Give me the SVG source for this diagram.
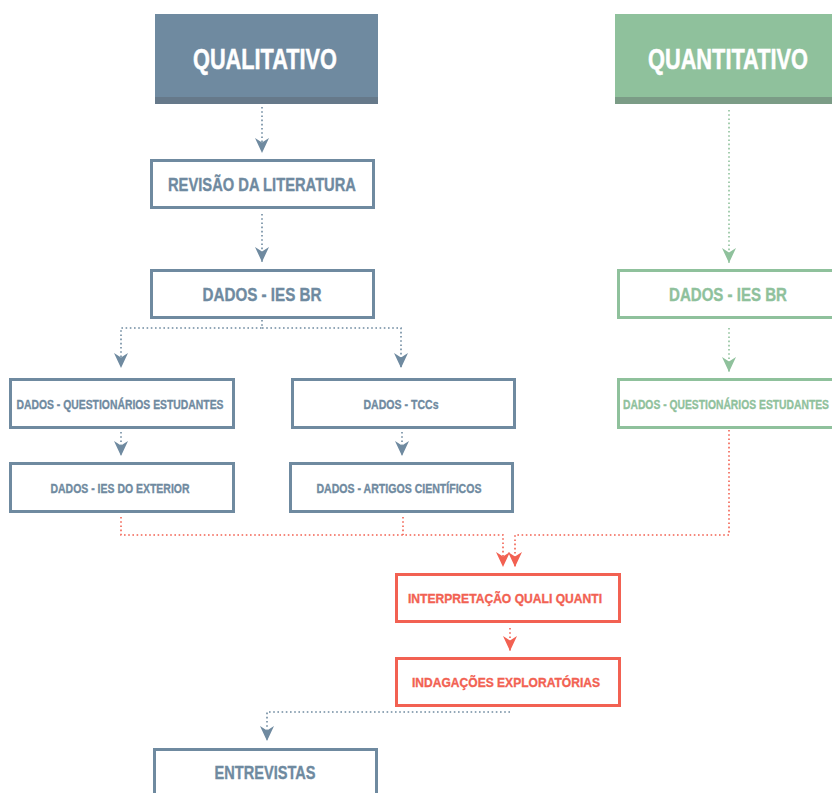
<svg xmlns="http://www.w3.org/2000/svg" width="832" height="793" viewBox="0 0 832 793">
  <defs>
    <style>
      text { font-family: "Liberation Sans", Arial, sans-serif; font-weight: bold; text-anchor: middle; stroke-width: 0.35; }
      .hd { font-size: 29px; fill: #ffffff; stroke: #ffffff; stroke-width: 0.5; }
      .md { font-size: 17.5px; }
      .sm { font-size: 13.5px; }
      .box { fill: #ffffff; stroke-width: 3; }
      .blue { stroke: #6f8aa0; }
      .green { stroke: #8fc19c; }
      .red { stroke: #f26152; }
      .tb { fill: #6f8aa0; stroke: #6f8aa0; }
      .tg { fill: #8fc19c; stroke: #8fc19c; }
      .tr { fill: #f26152; stroke: #f26152; }
      .dot { fill: none; stroke-width: 1.6; stroke-dasharray: 1.6 2.6; }
    </style>
    <marker id="ab" markerUnits="userSpaceOnUse" markerWidth="17" markerHeight="15" refX="15" refY="7" orient="auto">
      <path d="M0,0 L15,7 L0,14 L4.5,7 Z" fill="#6f8aa0"/>
    </marker>
    <marker id="ag" markerUnits="userSpaceOnUse" markerWidth="17" markerHeight="15" refX="15" refY="7" orient="auto">
      <path d="M0,0 L15,7 L0,14 L4.5,7 Z" fill="#8fc19c"/>
    </marker>
    <marker id="ar" markerUnits="userSpaceOnUse" markerWidth="17" markerHeight="15" refX="15" refY="7" orient="auto">
      <path d="M0,0 L15,7 L0,14 L4.5,7 Z" fill="#f26152"/>
    </marker>
  </defs>

  <!-- connectors -->
  <g id="connectors">
    <path class="dot blue" d="M262,107 V153" marker-end="url(#ab)"/>
    <path class="dot blue" d="M262,214 V262" marker-end="url(#ab)"/>
    <path class="dot blue" d="M262,320 V328 H121 V368" marker-end="url(#ab)"/>
    <path class="dot blue" d="M262,328 H401 V368" marker-end="url(#ab)"/>
    <path class="dot blue" d="M121,432 V456" marker-end="url(#ab)"/>
    <path class="dot blue" d="M402,432 V456" marker-end="url(#ab)"/>
    <path class="dot green" d="M729,110 V263" marker-end="url(#ag)"/>
    <path class="dot green" d="M729,328 V372" marker-end="url(#ag)"/>
    <path class="dot red" d="M121,517 V535 H503 V567" marker-end="url(#ar)"/>
    <path class="dot red" d="M403,517 V535"/>
    <path class="dot red" d="M729,430 V535 H515 V567" marker-end="url(#ar)"/>
    <path class="dot red" d="M510,628 V651" marker-end="url(#ar)"/>
    <path class="dot blue" d="M510,712 H267 V741" marker-end="url(#ab)"/>
  </g>

  <!-- headers -->
  <g id="qualitativo">
    <rect x="155" y="14" width="223" height="90" fill="#6f8aa0"/>
    <rect x="155" y="97" width="223" height="7" fill="#66798a"/>
    <text class="hd" x="265" y="69" textLength="144" lengthAdjust="spacingAndGlyphs">QUALITATIVO</text>
  </g>
  <g id="quantitativo">
    <rect x="615" y="14" width="220" height="90" fill="#8fc19c"/>
    <rect x="615" y="97" width="220" height="7" fill="#7b9c86"/>
    <text class="hd" x="728" y="69" textLength="160" lengthAdjust="spacingAndGlyphs">QUANTITATIVO</text>
  </g>

  <!-- qualitative branch -->
  <g id="revisao">
    <rect class="box blue" x="151.5" y="160.5" width="222" height="47"/>
    <text class="md tb" x="262" y="190.5" textLength="188" lengthAdjust="spacingAndGlyphs">REVISÃO DA LITERATURA</text>
  </g>
  <g id="ies-br">
    <rect class="box blue" x="151.5" y="270.5" width="222" height="47"/>
    <text class="md tb" x="262" y="300.5" textLength="119" lengthAdjust="spacingAndGlyphs">DADOS - IES BR</text>
  </g>
  <g id="questionarios">
    <rect class="box blue" x="10.5" y="379.5" width="223" height="48"/>
    <text class="sm tb" x="120" y="408.5" textLength="207" lengthAdjust="spacingAndGlyphs">DADOS - QUESTIONÁRIOS ESTUDANTES</text>
  </g>
  <g id="tccs">
    <rect class="box blue" x="292.5" y="379.5" width="222" height="48"/>
    <text class="sm tb" x="401" y="408.5" textLength="75" lengthAdjust="spacingAndGlyphs">DADOS - TCCs</text>
  </g>
  <g id="ies-exterior">
    <rect class="box blue" x="10.5" y="463.5" width="223" height="48"/>
    <text class="sm tb" x="120" y="492.5" textLength="139" lengthAdjust="spacingAndGlyphs">DADOS - IES DO EXTERIOR</text>
  </g>
  <g id="artigos">
    <rect class="box blue" x="290.5" y="463.5" width="222" height="48"/>
    <text class="sm tb" x="399" y="492.5" textLength="165" lengthAdjust="spacingAndGlyphs">DADOS - ARTIGOS CIENTÍFICOS</text>
  </g>

  <!-- quantitative branch -->
  <g id="ies-br-quanti">
    <rect class="box green" x="618.5" y="270.5" width="220" height="47"/>
    <text class="md tg" x="728" y="300.5" textLength="118" lengthAdjust="spacingAndGlyphs">DADOS - IES BR</text>
  </g>
  <g id="questionarios-quanti">
    <rect class="box green" x="618.5" y="379.5" width="220" height="48"/>
    <text class="sm tg" x="726" y="408.5" textLength="206" lengthAdjust="spacingAndGlyphs">DADOS - QUESTIONÁRIOS ESTUDANTES</text>
  </g>

  <!-- synthesis -->
  <g id="interpretacao">
    <rect class="box red" x="396.5" y="574.5" width="223" height="47"/>
    <text class="sm tr" x="505" y="603" textLength="194" lengthAdjust="spacingAndGlyphs">INTERPRETAÇÃO QUALI QUANTI</text>
  </g>
  <g id="indagacoes">
    <rect class="box red" x="396.5" y="658.5" width="223" height="47"/>
    <text class="sm tr" x="506" y="687" textLength="188" lengthAdjust="spacingAndGlyphs">INDAGAÇÕES EXPLORATÓRIAS</text>
  </g>
  <g id="entrevistas">
    <rect class="box blue" x="154.5" y="749.5" width="222" height="60"/>
    <text class="md tb" x="265" y="779" textLength="101" lengthAdjust="spacingAndGlyphs">ENTREVISTAS</text>
  </g>
</svg>
